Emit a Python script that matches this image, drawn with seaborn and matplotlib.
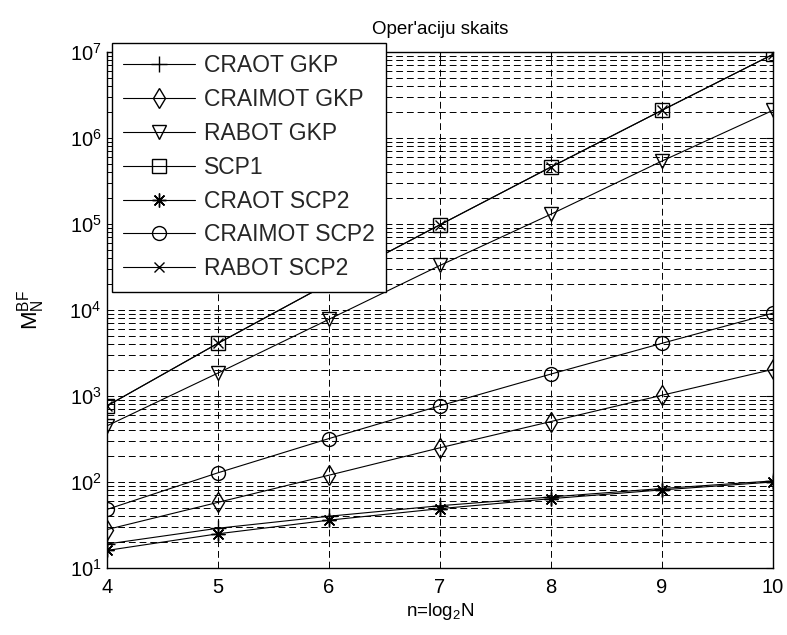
import numpy as np
import pandas as pd
import matplotlib
matplotlib.use("Agg")
import matplotlib.pyplot as plt
import seaborn as sns
from matplotlib.ticker import LogLocator, LogFormatterMathtext, NullFormatter, FixedLocator

# ---- data ----
n_values = [4, 5, 6, 7, 8, 9, 10]
series_names = ["CRAOT GKP", "CRAIMOT GKP", "RABOT GKP", "SCP1",
                "CRAOT SCP2", "CRAIMOT SCP2", "RABOT SCP2"]
craot_gkp = [19, 29, 40, 53, 67, 84, 103]
craimot_gkp = [28, 58, 120, 250, 505, 1020, 2040]
rabot_gkp = [450, 1850, 7800, 33000, 130000, 540000, 2100000]
scp1 = [768, 4100, 20500, 98000, 460000, 2100000, 9400000]
craot_scp2 = [16, 25, 36, 49, 64, 81, 100]
craimot_scp2 = [48, 128, 320, 770, 1800, 4100, 9200]
rabot_scp2 = [768, 4100, 20500, 98000, 460000, 2100000, 9400000]
x_ticks = [4, 5, 6, 7, 8, 9, 10]

values = [craot_gkp, craimot_gkp, rabot_gkp, scp1, craot_scp2, craimot_scp2, rabot_scp2]
df = pd.DataFrame({
    "n": np.tile(n_values, len(series_names)),
    "M": np.concatenate(values),
    "series": np.repeat(series_names, len(n_values)),
})

marker_map = {
    "CRAOT GKP": ("+", 12),
    "CRAIMOT GKP": ("d", 10),
    "RABOT GKP": ("v", 10.5),
    "SCP1": ("s", 10),
    "CRAOT SCP2": ((8, 2, 0), 10),
    "CRAIMOT SCP2": ("o", 10),
    "RABOT SCP2": ("x", 7),
}

sns.set_theme(style="white")
plt.rcParams["font.family"] = ["Liberation Sans", "DejaVu Sans"]
plt.rcParams["mathtext.fontset"] = "custom"
plt.rcParams["mathtext.rm"] = "Liberation Sans"
plt.rcParams["mathtext.it"] = "Liberation Sans"
plt.rcParams["mathtext.bf"] = "Liberation Sans:bold"

fig = plt.figure(figsize=(7.87, 6.35), dpi=100)
# axes: x 107..773 px, y 52..568 px
ax = fig.add_axes([107 / 787, 1 - 568 / 635, 666 / 787, 516 / 635])

for name in series_names:
    sub = df[df["series"] == name]
    m, ms = marker_map[name]
    sns.lineplot(data=sub, x="n", y="M", ax=ax, color="black", linewidth=0.8,
                 marker=m, markersize=ms, markerfacecolor="none",
                 markeredgecolor="black", markeredgewidth=1.0,
                 errorbar=None, legend=False)

ax.set_yscale("log")
ax.set_xlim(4, 10)
ax.set_ylim(10, 1e7)
ax.xaxis.set_major_locator(FixedLocator(x_ticks))
ax.yaxis.set_major_locator(LogLocator(base=10))
ax.yaxis.set_major_formatter(LogFormatterMathtext(base=10))
ax.yaxis.set_minor_locator(LogLocator(base=10, subs=np.arange(2, 10)))
ax.yaxis.set_minor_formatter(NullFormatter())

grid_ls = (0, (7, 4))
ax.grid(True, which="major", axis="both", color="black", linestyle=grid_ls, linewidth=0.7)
ax.grid(True, which="minor", axis="y", color="black", linestyle=grid_ls, linewidth=0.7)
ax.set_axisbelow(True)

for sp in ax.spines.values():
    sp.set_color("black")
    sp.set_linewidth(1.0)
    sp.set_visible(True)

ax.tick_params(axis="both", which="both", direction="in", top=True, right=True,
               colors="black", labelsize=14.5)
ax.tick_params(axis="both", which="major", length=5, width=0.8)
ax.tick_params(axis="y", which="minor", length=3, width=0.6)
ax.tick_params(axis="x", which="major", pad=7)
ax.tick_params(axis="y", which="major", pad=4)

ax.set_title("Oper'aciju skaits", fontsize=13.5, color="black", pad=13)
ax.set_xlabel("n=log$_2$N", fontsize=13.5, color="black", labelpad=3)
ax.set_ylabel("$\\mathregular{M_N^{BF}}$", fontsize=16, color="black")
ax.yaxis.set_label_coords(-0.09, 0.5)

handles = list(ax.lines[:len(series_names)])
leg = ax.legend(handles, series_names, loc="upper left",
                bbox_to_anchor=(112 / 787, 1 - 43 / 635), bbox_transform=fig.transFigure,
                frameon=True, fancybox=False, edgecolor="black", framealpha=1,
                fontsize=16.5, handlelength=3.1, labelspacing=0.47,
                borderaxespad=0.0, handletextpad=0.4, borderpad=0.5)
leg.get_frame().set_linewidth(1.0)

fig.savefig("out.png", dpi=100)
